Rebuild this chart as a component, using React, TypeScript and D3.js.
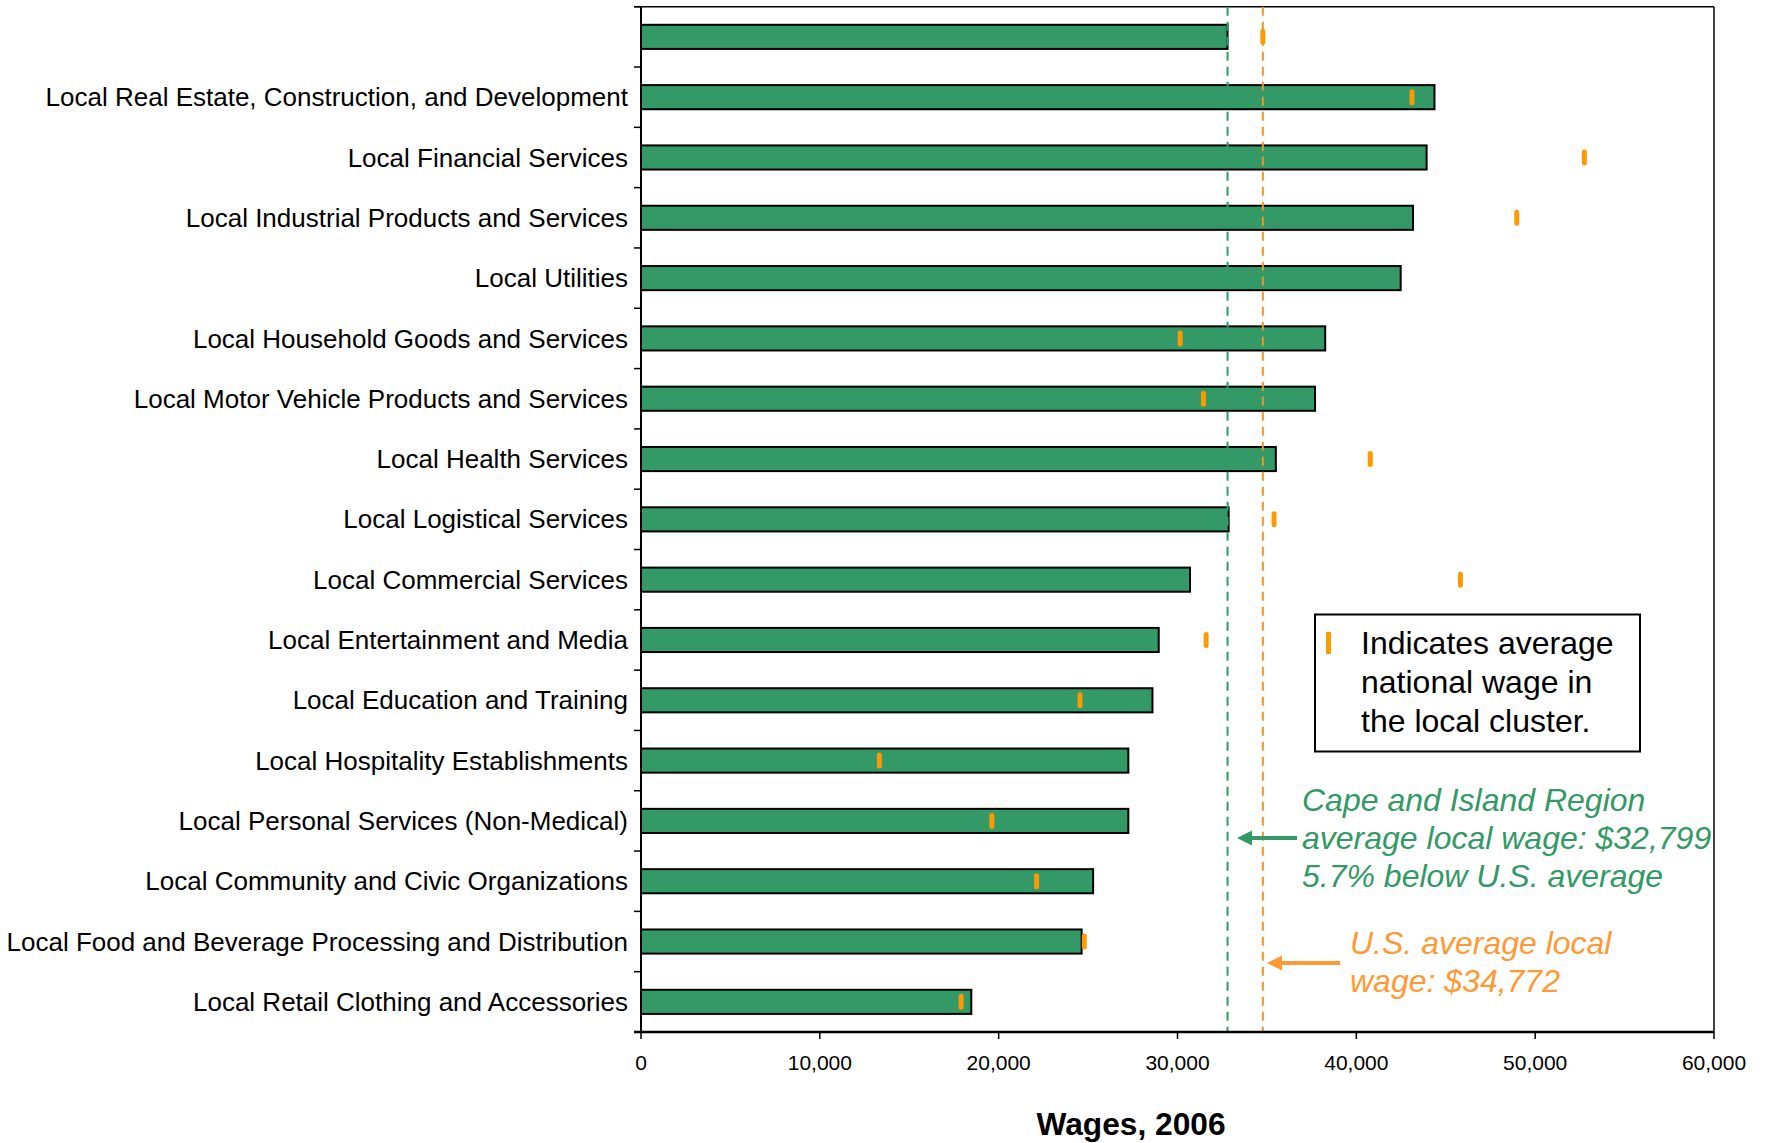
import React from "react";
import * as d3 from "d3";

const categories = [
  "",
  "Local Real Estate, Construction, and Development",
  "Local Financial Services",
  "Local Industrial Products and Services",
  "Local Utilities",
  "Local Household Goods and Services",
  "Local Motor Vehicle Products and Services",
  "Local Health Services",
  "Local Logistical Services",
  "Local Commercial Services",
  "Local Entertainment and Media",
  "Local Education and Training",
  "Local Hospitality Establishments",
  "Local Personal Services (Non-Medical)",
  "Local Community and Civic Organizations",
  "Local Food and Beverage Processing and Distribution",
  "Local Retail Clothing and Accessories",
];

const regionWages = [
  32799, 44370, 43930, 43170, 42480, 38260, 37690, 35500, 32860, 30700, 28950,
  28600, 27250, 27250, 25280, 24640, 18470,
];

const nationalWages: (number | null)[] = [
  34772, 43110, 52750, 48970, null, 30150, 31450, 40780, 35400, 45820, 31600,
  24550, 13330, 19620, 22120, 24790, 17900,
];

const xTicks = [0, 10000, 20000, 30000, 40000, 50000, 60000];
const regionAverage = 32799;
const usAverage = 34772;

const legendLines = ["Indicates average", "national wage in", "the local cluster."];
const regionNoteLines = [
  "Cape and Island Region",
  "average local wage: $32,799",
  "5.7% below U.S. average",
];
const usNoteLines = ["U.S. average local", "wage: $34,772"];
const xTitle = "Wages, 2006";

const GREEN = "#339966";
const ORANGE = "#FF9900";
const ORANGE_TEXT = "#FF9933";
const FONT = "'Liberation Sans', Arial, sans-serif";

export default function App() {
  const W = 1768;
  const H = 1143;
  const left = 641;
  const right = 1714;
  const top = 6.7;
  const bottom = 1032;

  const x = d3.scaleLinear().domain([0, 60000]).range([left, right]);
  const idx = d3.range(categories.length).map(String);
  const y = d3
    .scaleBand<string>()
    .domain(idx)
    .range([top, bottom])
    .paddingInner(0.6)
    .paddingOuter(0.3);
  const step = y.step();
  const fmt = d3.format(",");

  return (
    <svg
      width={W}
      height={H}
      style={{ position: "absolute", left: 0, top: 0, background: "#fff" }}
      fontFamily={FONT}
    >
      <rect x={0} y={0} width={W} height={H} fill="#fff" />
      {/* frame top & right */}
      <line x1={left - 7} x2={right} y1={top} y2={top} stroke="#000" strokeWidth={1.5} />
      <line x1={right} x2={right} y1={top} y2={bottom} stroke="#000" strokeWidth={1.5} />

      {/* bars */}
      {regionWages.map((v, i) => (
        <rect
          key={"b" + i}
          x={x(0)}
          y={y(String(i))!}
          width={x(v) - x(0)}
          height={y.bandwidth()}
          fill={GREEN}
          stroke="#000"
          strokeWidth={2}
        />
      ))}

      {/* reference dashed lines */}
      <line
        x1={x(regionAverage)}
        x2={x(regionAverage)}
        y1={top}
        y2={bottom}
        stroke={GREEN}
        strokeWidth={2}
        strokeDasharray="9,6"
      />
      <line
        x1={x(usAverage)}
        x2={x(usAverage)}
        y1={top}
        y2={bottom}
        stroke="#F7941D"
        strokeWidth={2}
        strokeDasharray="9,6"
      />

      {/* national markers */}
      {nationalWages.map((v, i) =>
        v == null ? null : (
          <rect
            key={"m" + i}
            x={x(v) - 2.5}
            y={y(String(i))! + y.bandwidth() / 2 - 8}
            width={5}
            height={16}
            rx={2.5}
            fill={ORANGE}
          />
        )
      )}

      {/* y axis */}
      <line x1={left} x2={left} y1={top} y2={bottom} stroke="#000" strokeWidth={2} />
      {d3.range(categories.length + 1).map((i) => (
        <line
          key={"yt" + i}
          x1={left - 7}
          x2={left}
          y1={top + i * step}
          y2={top + i * step}
          stroke="#000"
          strokeWidth={1.5}
        />
      ))}
      {categories.map((c, i) => (
        <text
          key={"c" + i}
          x={left - 13}
          y={y(String(i))! + y.bandwidth() / 2}
          dy="0.35em"
          textAnchor="end"
          fontSize={26}
          fill="#000"
        >
          {c}
        </text>
      ))}

      {/* x axis */}
      <line x1={left - 7} x2={right} y1={bottom} y2={bottom} stroke="#000" strokeWidth={2.5} />
      {xTicks.map((t) => (
        <g key={"xt" + t}>
          <line x1={x(t)} x2={x(t)} y1={bottom} y2={bottom + 7} stroke="#000" strokeWidth={1.5} />
          <text x={x(t)} y={bottom + 38} textAnchor="middle" fontSize={21} fill="#000">
            {fmt(t)}
          </text>
        </g>
      ))}
      <text
        x={1131}
        y={1135}
        textAnchor="middle"
        fontSize={31.7}
        fontWeight="bold"
        fill="#000"
      >
        {xTitle}
      </text>

      {/* legend */}
      <rect x={1315} y={614.5} width={325} height={137} fill="#fff" stroke="#000" strokeWidth={2} />
      <rect x={1326} y={632} width={5} height={22} fill={ORANGE} />
      {legendLines.map((l, i) => (
        <text key={"l" + i} x={1361} y={654 + i * 39} fontSize={32} fill="#000">
          {l}
        </text>
      ))}

      {/* region annotation */}
      {regionNoteLines.map((l, i) => (
        <text
          key={"r" + i}
          x={1302}
          y={811 + i * 38}
          fontSize={32}
          fontStyle="italic"
          fill={GREEN}
        >
          {l}
        </text>
      ))}
      <line x1={1297} x2={1250} y1={838} y2={838} stroke={GREEN} strokeWidth={4} />
      <path d="M1237,838 L1252,830.5 L1252,845.5 Z" fill={GREEN} />

      {/* US annotation */}
      {usNoteLines.map((l, i) => (
        <text
          key={"u" + i}
          x={1350}
          y={954 + i * 38}
          fontSize={32}
          fontStyle="italic"
          fill={ORANGE_TEXT}
        >
          {l}
        </text>
      ))}
      <line x1={1340} x2={1280} y1={963} y2={963} stroke={ORANGE_TEXT} strokeWidth={4} />
      <path d="M1267,963 L1282,955.5 L1282,970.5 Z" fill={ORANGE_TEXT} />
    </svg>
  );
}
